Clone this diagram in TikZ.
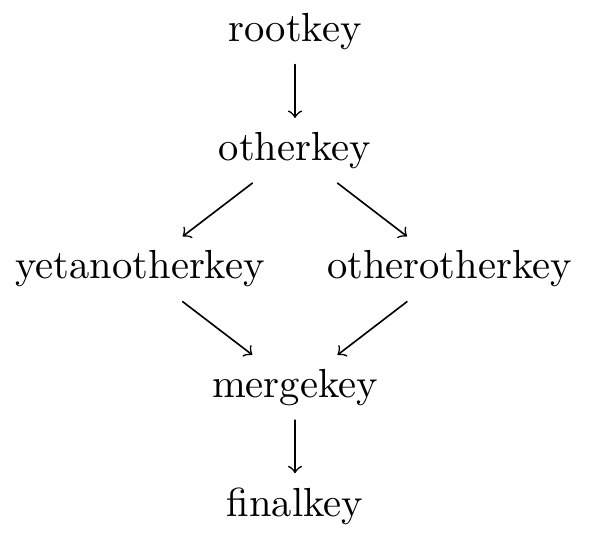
\documentclass[tikz,border=0pt]{standalone}
\usepackage{tikz}
\usetikzlibrary{arrows}
\usetikzlibrary{positioning}

\begin{document}
\begin{tikzpicture}[line cap=round,line join=round,>=to,x=1cm,y=1cm]
\useasboundingbox (0,0) rectangle (5.108,-4.658);
\draw (2.554,-0.277) node[color=black] (root) {rootkey};
\draw (2.554,-1.303) node[color=black] (other) {otherkey};
\draw (1.212,-2.329) node[color=black] (yetanother) {yetanotherkey};
\draw (3.892,-2.329) node[color=black] (otherother) {otherotherkey};
\draw (2.554,-3.355) node[color=black] (merge) {mergekey};
\draw (2.554,-4.381) node[color=black] (final) {finalkey};
\path (root) edge[->] (other);
\path (other) edge[->] (yetanother);
\path (other) edge[->] (otherother);
\path (yetanother) edge[->] (merge);
\path (otherother) edge[->] (merge);
\path (merge) edge[->] (final);
\end{tikzpicture}
\end{document}
